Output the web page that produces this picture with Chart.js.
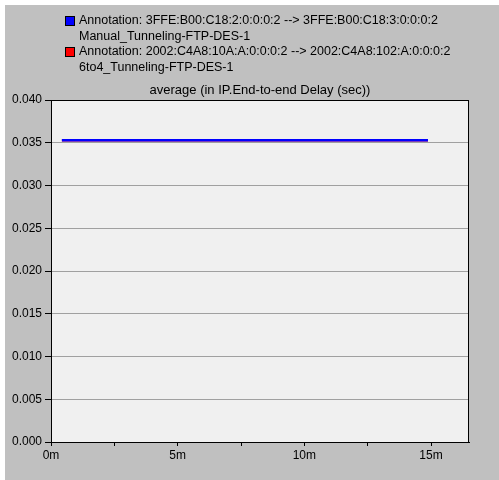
<!DOCTYPE html>
<html>
<head>
<meta charset="utf-8">
<script src="https://cdn.jsdelivr.net/npm/chart.js@4/dist/chart.umd.min.js"></script>
<style>
  body { margin: 0; background: #fff; }
  #wrap { width: 499px; height: 480px; }
</style>
</head>
<body>
<div id="wrap"><canvas id="delayChart" width="499" height="480"></canvas></div>
<script>
// values (minutes, seconds)
let series_names = [
    ['Annotation: 3FFE:B00:C18:2:0:0:0:2 --> 3FFE:B00:C18:3:0:0:0:2', 'Manual_Tunneling-FTP-DES-1'],
    ['Annotation: 2002:C4A8:10A:A:0:0:0:2 --> 2002:C4A8:102:A:0:0:0:2', '6to4_Tunneling-FTP-DES-1']
];
let series_colors = ['#0000ff', '#ff0000'];
let time_min = [0.43, 14.88];
let manual_delay = [0.0353, 0.0353];
let sixto4_delay = [0.0353, 0.0353];
let x_ticks = [0, 5, 10, 15];
let chart_title = 'average (in IP.End-to-end Delay (sec))';

const FAMILY = '"Liberation Sans", Arial, sans-serif';

const points = (ys) => time_min.map((t, i) => ({ x: t, y: ys[i] }));

// grey panel with white strip, plot background, frame, legend and title
const framePlugin = {
    id: 'frame',
    beforeDraw(chart) {
        let c = chart.ctx;
        let a = chart.chartArea;
        c.save();
        c.fillStyle = '#ffffff';
        c.fillRect(0, 0, chart.width, chart.height);
        c.fillStyle = '#c0c0c0';
        c.fillRect(5, 5, chart.width - 5, chart.height - 5);
        c.fillStyle = '#f0f0f0';
        c.fillRect(a.left, a.top, a.right - a.left, a.bottom - a.top);
        c.restore();
    },
    afterDraw(chart) {
        let c = chart.ctx;
        let a = chart.chartArea;
        c.save();
        c.strokeStyle = '#000';
        c.lineWidth = 1;
        c.strokeRect(a.left + 0.5, a.top + 0.5, a.right - a.left - 1, a.bottom - a.top);

        c.fillStyle = '#000';
        c.textBaseline = 'middle';
        c.textAlign = 'center';
        c.font = '13px ' + FAMILY;
        c.fillText(chart_title, (a.left + a.right) / 2, 90);

        c.font = '12.5px ' + FAMILY;
        c.textAlign = 'left';
        let y = 21;
        series_names.forEach((lines, i) => {
            c.fillStyle = series_colors[i];
            c.fillRect(66, y - 4, 8, 8);
            c.strokeStyle = '#000';
            c.strokeRect(65.5, y - 4.5, 9, 9);
            c.fillStyle = '#000';
            lines.forEach((txt) => {
                c.fillText(txt, 79, y);
                y += 15.5;
            });
        });
        c.restore();
    }
};

new Chart(document.getElementById('delayChart'), {
    type: 'scatter',
    data: {
        datasets: [{
            label: series_names[0].join(' '),
            data: points(manual_delay),
            borderColor: series_colors[0],
            backgroundColor: series_colors[0],
            borderWidth: 2.5,
            showLine: true,
            pointRadius: 0
        }, {
            label: series_names[1].join(' '),
            data: points(sixto4_delay),
            borderColor: series_colors[1],
            backgroundColor: series_colors[1],
            borderWidth: 2.5,
            showLine: true,
            pointRadius: 0
        }]
    },
    options: {
        responsive: false,
        animation: false,
        layout: { padding: { left: 0, right: 30, top: 100, bottom: 0 } },
        plugins: {
            legend: { display: false },
            title: { display: false },
            tooltip: { enabled: false }
        },
        scales: {
            x: {
                type: 'linear',
                min: 0,
                max: 16.5,
                afterFit: (s) => { s.height = 38; },
                afterBuildTicks: (s) => {
                    s.ticks = [0, 2.5, 5, 7.5, 10, 12.5, 15].map(v => ({ value: v }));
                },
                ticks: {
                    font: { family: FAMILY, size: 12 },
                    color: '#000',
                    padding: 2,
                    maxRotation: 0,
                    autoSkip: false,
                    callback: (v) => x_ticks.includes(v) ? v + 'm' : ''
                },
                grid: { drawOnChartArea: false, tickLength: 4, tickColor: '#000' },
                border: { color: '#000' }
            },
            y: {
                min: 0,
                max: 0.04,
                afterFit: (s) => { s.width = 51; },
                ticks: {
                    stepSize: 0.005,
                    font: { family: FAMILY, size: 12 },
                    color: '#000',
                    padding: 3,
                    callback: (v) => v.toFixed(3)
                },
                grid: { color: '#a0a0a0', tickLength: 6, tickColor: '#000' },
                border: { color: '#000' }
            }
        }
    },
    plugins: [framePlugin]
});
</script>
</body>
</html>
